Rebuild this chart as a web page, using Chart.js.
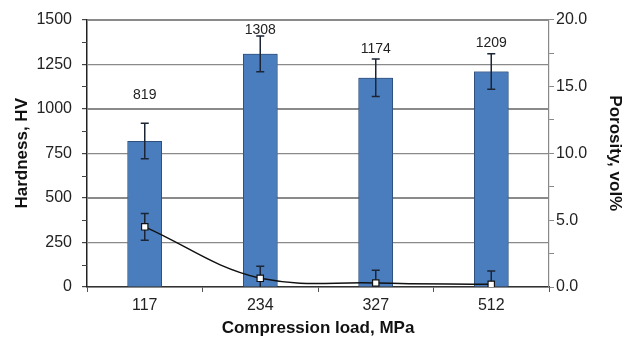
<!DOCTYPE html>
<html>
<head>
<meta charset="utf-8">
<script src="https://cdn.jsdelivr.net/npm/chart.js@4/dist/chart.umd.min.js"></script>
<style>
  html, body { margin: 0; padding: 0; background: #fff; }
</style>
</head>
<body>
<canvas id="grafico" width="629" height="339"></canvas>
<script>
// Datos
const cargas = ["117", "234", "327", "512"];
const dureza = [819, 1308, 1174, 1209];
const durezaError = [100, 100, 105, 100];
const porosidad = [4.5, 0.65, 0.3, 0.2];
const porosidadError = [1.0, 0.9, 0.95, 1.0];

// Separacion de la etiqueta sobre la barra de error (px)
const separacionEtiqueta = [28, 6, 10, 11];

const fuente = "'Liberation Sans', Arial, sans-serif";

// Dibuja barras de error para un dataset
function dibujarErrores(chart, index, valores, errores, color) {
    const meta = chart.getDatasetMeta(index);
    const escala = chart.scales[meta.yAxisID];
    const ctx = chart.ctx;
    const area = chart.chartArea;
    ctx.save();
    ctx.beginPath();
    ctx.rect(area.left, area.top - 5, area.right - area.left, area.bottom - area.top + 5);
    ctx.clip();
    ctx.strokeStyle = color;
    ctx.lineWidth = 1.5;
    meta.data.forEach((el, i) => {
        const x = el.x;
        const arriba = escala.getPixelForValue(valores[i] + errores[i]);
        const abajo = escala.getPixelForValue(valores[i] - errores[i]);
        ctx.beginPath();
        ctx.moveTo(x, arriba);
        ctx.lineTo(x, abajo);
        ctx.moveTo(x - 4, arriba);
        ctx.lineTo(x + 4, arriba);
        ctx.moveTo(x - 4, abajo);
        ctx.lineTo(x + 4, abajo);
        ctx.stroke();
    });
    ctx.restore();
}

// Lineas horizontales de la cuadricula y marcas menores del eje izquierdo
function dibujarCuadricula(chart) {
    const ctx = chart.ctx;
    const escala = chart.scales.y;
    const area = chart.chartArea;
    ctx.save();
    ctx.strokeStyle = "#8a8a8a";
    ctx.lineWidth = 1.2;
    escala.ticks.forEach((t) => {
        if (t.value === 0) return;
        const y = Math.round(escala.getPixelForValue(t.value)) + 0.5;
        ctx.beginPath();
        ctx.moveTo(area.left, y);
        ctx.lineTo(area.right, y);
        ctx.stroke();
    });
    ctx.strokeStyle = "#444";
    ctx.lineWidth = 1;
    for (let v = 125; v < escala.max; v += 250) {
        const y = Math.round(escala.getPixelForValue(v)) + 0.5;
        ctx.beginPath();
        ctx.moveTo(area.left - 5, y);
        ctx.lineTo(area.left, y);
        ctx.stroke();
    }
    ctx.restore();
}

const pluginErrores = {
    id: "errores",
    afterDatasetDraw(chart, args) {
        if (args.index === 0) {
            // cuadricula detras de las barras: se dibuja y luego se repintan las barras
            dibujarCuadricula(chart);
            const ctx = chart.ctx;
            chart.getDatasetMeta(0).data.forEach((el) => el.draw(ctx, chart.chartArea));
            dibujarErrores(chart, 0, dureza, durezaError, "#1b2535");
        }
    },
    beforeDatasetDraw(chart, args) {
        if (args.index === 1) {
            dibujarErrores(chart, 1, porosidad, porosidadError, "#1b2535");
        }
    },
    afterDraw(chart) {
        // Etiquetas con el valor de dureza
        const ctx = chart.ctx;
        const meta = chart.getDatasetMeta(0);
        const escala = chart.scales.y;
        ctx.save();
        ctx.font = "14px " + fuente;
        ctx.fillStyle = "#222";
        ctx.textAlign = "center";
        ctx.textBaseline = "middle";
        meta.data.forEach((el, i) => {
            const y = escala.getPixelForValue(dureza[i] + durezaError[i]) - separacionEtiqueta[i];
            ctx.fillText(String(dureza[i]), el.x, y);
        });
        ctx.restore();
    }
};

new Chart(document.getElementById("grafico"), {
    type: "bar",
    data: {
        labels: cargas,
        datasets: [
            {
                type: "bar",
                label: "Hardness",
                data: dureza,
                yAxisID: "y",
                backgroundColor: "#4a7dbd",
                borderColor: "#2d4f7c",
                borderWidth: 1,
                barPercentage: 0.3,
                categoryPercentage: 1.0,
                order: 1
            },
            {
                type: "line",
                label: "Porosity",
                data: porosidad,
                yAxisID: "y1",
                borderColor: "#111",
                borderWidth: 1.5,
                tension: 0.4,
                pointStyle: "rect",
                pointRadius: 4.5,
                pointBackgroundColor: "#fff",
                pointBorderColor: "#111",
                pointBorderWidth: 1.2,
                fill: false,
                order: 0
            }
        ]
    },
    options: {
        responsive: false,
        animation: false,
        layout: { padding: { top: 19, left: 0, right: 0, bottom: 0 } },
        plugins: {
            legend: { display: false },
            tooltip: { enabled: false }
        },
        scales: {
            x: {
                offset: true,
                grid: {
                    offset: true,
                    drawOnChartArea: false,
                    tickLength: 5,
                    tickColor: "#555"
                },
                border: { color: "#333", width: 1.5 },
                ticks: {
                    color: "#222",
                    font: { family: fuente, size: 16 },
                    padding: 4
                },
                title: {
                    display: true,
                    text: "Compression load, MPa",
                    color: "#111",
                    font: { family: fuente, size: 17, weight: "bold" },
                    padding: { top: 3, bottom: 0 }
                },
                afterFit(scale) { scale.height = 52; }
            },
            y: {
                position: "left",
                min: 0,
                max: 1500,
                grid: {
                    color: "#8a8a8a",
                    lineWidth: 1.2,
                    tickColor: "#444",
                    tickLength: 5
                },
                border: { color: "#222", width: 1.5 },
                ticks: {
                    stepSize: 250,
                    autoSkip: false,
                    color: "#222",
                    font: { family: fuente, size: 16 },
                    padding: 10,
                    callback: (v) => String(v)
                },
                title: {
                    display: true,
                    text: "Hardness, HV",
                    color: "#111",
                    font: { family: fuente, size: 17, weight: "bold" },
                    padding: { top: 12, bottom: 0 }
                },
                afterFit(scale) { scale.width = 87; }
            },
            y1: {
                position: "right",
                min: 0,
                max: 20,
                grid: {
                    drawOnChartArea: false,
                    tickColor: "#888",
                    tickLength: 5
                },
                border: { color: "#888", width: 1.2 },
                ticks: {
                    stepSize: 2.5,
                    autoSkip: false,
                    color: "#222",
                    font: { family: fuente, size: 16 },
                    padding: 2,
                    callback: (v) => (v % 5 === 0 ? v.toFixed(1) : "")
                },
                title: {
                    display: true,
                    text: "Porosity, vol%",
                    color: "#111",
                    font: { family: fuente, size: 17, weight: "bold" },
                    padding: { top: 4, bottom: 0 }
                },
                afterFit(scale) { scale.width = 80; }
            }
        }
    },
    plugins: [pluginErrores]
});
</script>
</body>
</html>
